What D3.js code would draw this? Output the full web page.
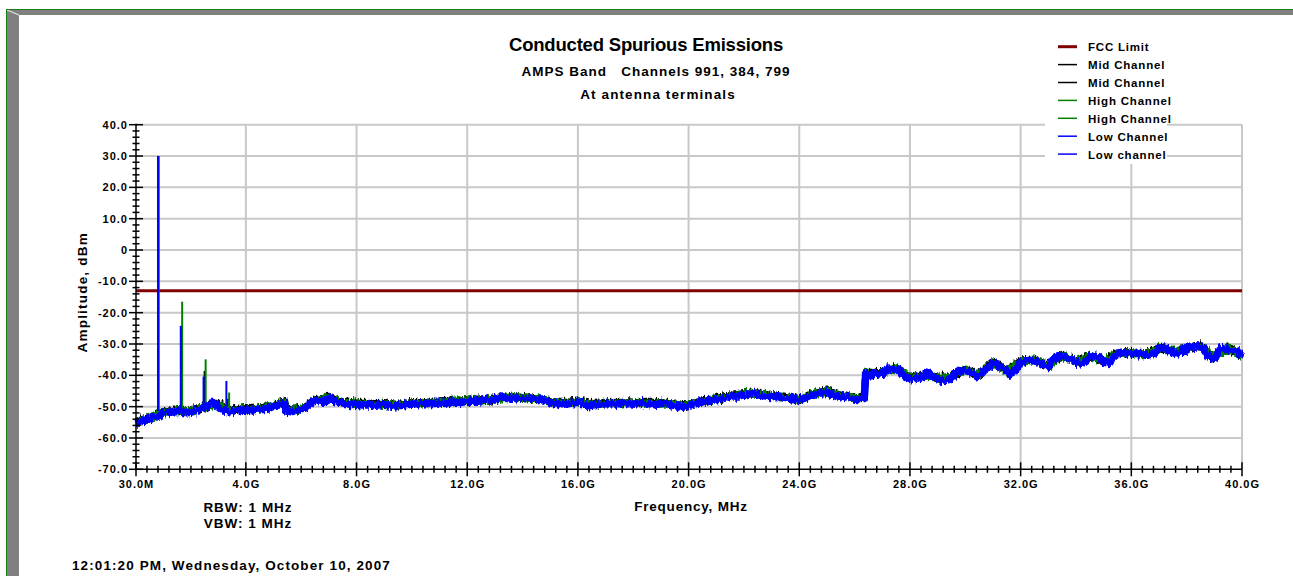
<!DOCTYPE html>
<html><head><meta charset="utf-8">
<script src="https://cdn.jsdelivr.net/npm/d3@7"></script>
<style>
body{margin:0;background:#fff}
svg{display:block}
text{font-family:"Liberation Sans",Arial,sans-serif;font-weight:bold;fill:#000}
</style>
</head><body>
<svg id="chart" width="1293" height="576"></svg>
<script>
// ---------------- data ----------------
const xTickValues=[0.03,4,8,12,16,20,24,28,32,36,40];
const xTickLabels=["30.0M","4.0G","8.0G","12.0G","16.0G","20.0G","24.0G","28.0G","32.0G","36.0G","40.0G"];
const yTickValues=[40,30,20,10,0,-10,-20,-30,-40,-50,-60,-70];
const yTickLabels=["40.0","30.0","20.0","10.0","0","-10.0","-20.0","-30.0","-40.0","-50.0","-60.0","-70.0"];
const fccLimit=-13;

const freqGHz=[
0.03,0.2,0.4,0.6,0.8,1.0,1.2,1.4,1.6,1.8,
2.0,2.2,2.4,2.6,2.8,3.0,3.2,3.4,3.6,3.8,
4.0,4.2,4.4,4.6,4.8,5.0,5.2,5.4,5.45,5.6,
5.8,6.0,6.2,6.4,6.6,6.8,7.0,7.2,7.4,7.6,
7.8,8.0,8.2,8.4,8.6,8.8,9.0,9.2,9.4,9.6,
9.8,10.0,10.2,10.4,10.6,10.8,11.0,11.2,11.4,11.6,
11.8,12.0,12.2,12.4,12.6,12.8,13.0,13.2,13.4,13.6,
13.8,14.0,14.2,14.4,14.6,14.8,15.0,15.2,15.4,15.6,
15.8,16.0,16.2,16.4,16.6,16.8,17.0,17.2,17.4,17.6,
17.8,18.0,18.2,18.4,18.6,18.8,19.0,19.2,19.4,19.6,
19.8,20.0,20.2,20.4,20.6,20.8,21.0,21.2,21.4,21.6,
21.8,22.0,22.2,22.4,22.6,22.8,23.0,23.2,23.4,23.6,
23.8,24.0,24.2,24.4,24.6,24.8,25.0,25.2,25.4,25.6,
25.8,26.0,26.2,26.35,26.4,26.6,26.8,27.0,27.2,27.4,
27.6,27.8,28.0,28.2,28.4,28.6,28.8,29.0,29.2,29.4,
29.6,29.8,30.0,30.2,30.4,30.6,30.8,31.0,31.2,31.4,
31.6,31.8,32.0,32.2,32.4,32.6,32.8,33.0,33.2,33.4,
33.6,33.8,34.0,34.2,34.4,34.6,34.8,35.0,35.2,35.4,
35.6,35.8,36.0,36.2,36.4,36.6,36.8,37.0,37.2,37.4,
37.6,37.8,38.0,38.2,38.4,38.6,38.8,39.0,39.2,39.4,
39.6,39.8,40.0];
const lowChannel=[
-55.5,-54.8,-54.2,-53.6,-53.2,-52.0,-51.8,-51.6,-51.5,-52.0,
-51.8,-51.3,-50.8,-49.8,-48.6,-50.2,-51.4,-51.6,-51.4,-51.2,
-51.0,-51.2,-50.8,-50.6,-50.5,-50.0,-49.8,-48.8,-51.4,-51.6,
-51.4,-51.0,-50.2,-48.6,-47.8,-48.6,-47.4,-48.0,-48.6,-49.0,
-49.3,-49.2,-49.5,-49.4,-49.6,-49.5,-49.4,-49.8,-49.7,-49.6,
-49.3,-49.2,-49.0,-49.2,-48.9,-49.0,-48.8,-48.9,-48.6,-48.5,
-48.6,-48.4,-48.2,-48.3,-48.0,-47.8,-47.9,-46.9,-47.0,-47.3,
-47.0,-47.4,-47.6,-47.5,-47.8,-47.9,-48.8,-49.2,-49.0,-49.2,
-48.8,-48.6,-49.2,-49.7,-49.4,-49.2,-49.1,-49.0,-49.2,-48.9,
-49.0,-49.2,-48.9,-49.1,-49.0,-49.4,-49.1,-49.0,-49.5,-49.8,
-50.2,-49.6,-49.1,-48.8,-48.2,-48.0,-47.8,-47.6,-47.0,-46.5,
-46.6,-46.2,-46.0,-45.8,-46.4,-46.6,-46.8,-46.7,-47.2,-47.6,
-47.3,-48.0,-47.2,-46.4,-46.0,-45.6,-45.4,-46.2,-46.9,-46.6,
-46.9,-47.6,-47.8,-47.4,-39.5,-39.8,-39.7,-39.4,-38.0,-38.2,
-38.0,-40.2,-41.1,-41.0,-40.6,-39.3,-40.0,-41.1,-41.8,-41.4,
-39.8,-38.6,-38.5,-38.8,-40.4,-39.4,-37.3,-36.2,-36.8,-38.0,
-39.6,-38.6,-35.8,-35.4,-35.2,-35.6,-36.8,-37.2,-34.6,-33.9,
-34.0,-34.8,-35.8,-36.4,-35.0,-33.6,-34.2,-35.8,-36.2,-34.0,
-32.6,-32.8,-33.1,-33.0,-33.4,-33.6,-33.0,-31.6,-31.0,-32.2,
-33.1,-32.4,-31.6,-30.8,-30.6,-31.6,-34.2,-34.6,-31.6,-31.4,
-32.2,-32.0,-34.1];

const coarseFreqGHz=[
0.03,0.5,1.0,1.5,2.0,2.5,3.0,3.5,4.0,4.5,
5.0,5.4,5.45,6.0,6.5,7.0,7.5,8.0,8.5,9.0,
9.5,10.0,10.5,11.0,11.5,12.0,12.5,13.0,13.5,14.0,
14.5,15.0,15.5,16.0,16.5,17.0,17.5,18.0,18.5,19.0,
19.5,20.0,20.5,21.0,21.5,22.0,22.5,23.0,23.5,24.0,
24.5,25.0,25.5,26.0,26.35,26.4,26.5,27.0,27.5,28.0,
28.5,29.0,29.5,30.0,30.5,31.0,31.5,32.0,32.5,33.0,
33.5,34.0,34.5,35.0,35.5,36.0,36.5,37.0,37.5,38.0,
38.5,39.0,39.5,40.0];
const midChannel=[
-54.8,-53.4,-51.6,-51.0,-51.4,-50.0,-48.8,-51.0,-50.6,-50.4,
-49.6,-48.4,-51.0,-50.6,-47.8,-47.0,-48.4,-48.8,-49.0,-48.9,
-49.2,-48.7,-48.7,-48.4,-48.1,-48.0,-47.8,-47.5,-46.8,-47.0,
-47.3,-48.4,-48.7,-48.2,-49.0,-48.7,-48.6,-48.8,-48.6,-48.7,
-49.2,-49.3,-48.1,-47.4,-46.4,-45.8,-45.6,-46.4,-47.0,-47.5,
-45.8,-45.0,-46.3,-47.2,-47.0,-39.2,-39.4,-39.0,-37.7,-40.7,
-39.6,-40.7,-40.4,-38.1,-39.7,-35.8,-38.5,-35.4,-35.0,-36.8,
-33.6,-35.4,-33.9,-35.4,-32.9,-32.7,-33.1,-31.2,-32.3,-31.2,
-30.6,-34.2,-31.2,-33.7];
const highChannel=[
-55.0,-53.8,-51.8,-51.3,-51.3,-50.2,-49.6,-51.2,-50.8,-50.5,
-49.7,-48.5,-51.2,-50.8,-48.0,-47.1,-48.6,-48.9,-49.2,-49.1,
-49.5,-48.9,-48.8,-48.5,-48.2,-48.1,-47.9,-47.6,-46.9,-47.1,
-47.4,-48.6,-48.9,-48.3,-49.3,-48.8,-48.8,-48.9,-48.8,-48.8,
-49.3,-49.4,-48.3,-47.5,-46.5,-45.9,-45.7,-46.5,-47.1,-47.7,
-46.0,-45.1,-46.5,-47.3,-47.1,-39.3,-39.5,-39.1,-37.8,-40.8,
-39.8,-40.8,-40.6,-38.2,-39.8,-35.9,-38.6,-35.5,-35.1,-36.9,
-33.7,-35.5,-34.0,-35.5,-33.0,-32.8,-33.2,-31.3,-32.4,-31.3,
-30.7,-34.3,-31.3,-33.8];

// carrier + harmonics (GHz, peak dBm)
const midSpikeFreq=[0.836,1.673,2.51,3.346];
const midSpikePeak=[30.0,-25.5,-38.6,-47.5];
const highSpikeFreq=[0.849,1.698,2.547,3.396];
const highSpikePeak=[30.0,-16.5,-34.9,-45.5];
const lowSpikeFreq=[0.824,1.648,2.472,3.296];
const lowSpikePeak=[30.0,-24.2,-40.4,-41.8];
const spikeBase=-51.5;

const legendLabels=["FCC Limit","Mid Channel","Mid Channel","High Channel","High Channel","Low Channel","Low channel"];
const legendColors=["#800000","#000000","#000000","#008000","#008000","#0000ff","#0000ff"];

// ---------------- drawing ----------------
const svg=d3.select("#chart");
const X0=136,X1=1242,Y0=469.3,Y1=124.7;
const x=d3.scaleLinear().domain([0.03,40]).range([X0,X1]);
const y=d3.scaleLinear().domain([-70,40]).range([Y0,Y1]);

// texture filter giving the swept-spectrum band its ragged look (styling only)
const defs=svg.append("defs");
[["rag1",3],["rag2",11],["rag3",23]].forEach(([id,seed])=>{
  const f=defs.append("filter").attr("id",id).attr("filterUnits","userSpaceOnUse")
    .attr("x",120).attr("y",100).attr("width",1140).attr("height",400);
  f.append("feTurbulence").attr("type","fractalNoise").attr("baseFrequency","0.45 0.12")
    .attr("numOctaves",2).attr("seed",seed).attr("result","t");
  f.append("feColorMatrix").attr("in","t").attr("type","matrix")
    .attr("values","0 0 0 0 0.5  1 0 0 0 0  0 0 0 0 0  0 0 0 0 1").attr("result","m");
  f.append("feDisplacementMap").attr("in","SourceGraphic").attr("in2","m").attr("scale",9)
    .attr("xChannelSelector","R").attr("yChannelSelector","G");
});

// frame
svg.append("rect").attr("x",7).attr("y",10).attr("width",12).attr("height",566).attr("fill","#808080");
svg.append("rect").attr("x",7).attr("y",10).attr("width",1286).attr("height",5).attr("fill","#808080");
svg.append("line").attr("x1",7).attr("y1",10).attr("x2",19).attr("y2",15).attr("stroke","#e0e0e0").attr("stroke-width",1.2);
svg.append("line").attr("x1",6.5).attr("y1",9).attr("x2",6.5).attr("y2",576).attr("stroke","#1a801a").attr("stroke-width",1);
svg.append("line").attr("x1",6).attr("y1",9.5).attr("x2",1293).attr("y2",9.5).attr("stroke","#1a801a").attr("stroke-width",1);

// grid
const grid=svg.append("g").attr("stroke","#c8c8c8").attr("stroke-width",2);
yTickValues.filter(v=>v>-70).forEach(v=>{
  grid.append("line").attr("x1",X0).attr("x2",X1).attr("y1",y(v)).attr("y2",y(v));
});
xTickValues.filter(v=>v>0.03).forEach(v=>{
  grid.append("line").attr("x1",x(v)).attr("x2",x(v)).attr("y1",Y1).attr("y2",Y0);
});

// FCC limit
svg.append("line").attr("x1",x(0.03)).attr("x2",x(40)).attr("y1",y(fccLimit)).attr("y2",y(fccLimit))
  .attr("stroke","#800000").attr("stroke-width",3);

// traces
const line=d3.line().x(d=>x(d[0])).y(d=>y(d[1]));
function trace(fr,vals,color,w,filt){
  const n=Math.min(fr.length,vals.length);
  const pts=d3.range(n).map(i=>[fr[i],vals[i]]);
  svg.append("path").datum(pts).attr("d",line).attr("fill","none").attr("stroke",color)
    .attr("stroke-width",w).attr("stroke-linejoin","round").attr("stroke-linecap","butt")
    .attr("filter","url(#"+filt+")");
}
function spikes(fr,pk,color){
  fr.forEach((f,i)=>{
    svg.append("line").attr("x1",x(f)).attr("x2",x(f)).attr("y1",y(spikeBase)).attr("y2",y(pk[i]))
      .attr("stroke",color).attr("stroke-width",2);
  });
}
trace(coarseFreqGHz,midChannel,"#000000",7,"rag1");
spikes(midSpikeFreq,midSpikePeak,"#000000");
trace(coarseFreqGHz,highChannel,"#008000",7,"rag2");
spikes(highSpikeFreq,highSpikePeak,"#008000");
trace(freqGHz,lowChannel,"#0000ff",7.5,"rag3");
spikes(lowSpikeFreq,lowSpikePeak,"#0000ff");

// axes lines
const ax=svg.append("g").attr("stroke","#000").attr("stroke-width",1.5);
ax.append("line").attr("x1",X0).attr("x2",X0).attr("y1",Y1-1).attr("y2",Y0);
ax.append("line").attr("x1",X0).attr("x2",X1).attr("y1",Y0).attr("y2",Y0);
// y ticks
d3.range(-70,40.1,2).forEach(v=>{
  const major=Math.abs(v%10)<1e-6;
  const h=major?7:3.5;
  ax.append("line").attr("x1",X0-h).attr("x2",X0+h).attr("y1",y(v)).attr("y2",y(v));
});
// x ticks (9 minor between each pair of majors)
for(let i=0;i<xTickValues.length;i++){
  ax.append("line").attr("x1",x(xTickValues[i])).attr("x2",x(xTickValues[i])).attr("y1",Y0-7).attr("y2",Y0+7);
  if(i<xTickValues.length-1){
    const a=xTickValues[i],b=xTickValues[i+1];
    for(let k=1;k<10;k++){
      const f=a+(b-a)*k/10;
      ax.append("line").attr("x1",x(f)).attr("x2",x(f)).attr("y1",Y0-3.5).attr("y2",Y0+3.5);
    }
  }
}
// tick labels
yTickValues.forEach((v,i)=>{
  svg.append("text").attr("x",128).attr("y",y(v)+4).attr("text-anchor","end")
    .style("font-size","11px").style("letter-spacing","1px").text(yTickLabels[i]);
});
xTickValues.forEach((v,i)=>{
  svg.append("text").attr("x",x(v)+0.5).attr("y",487.5).attr("text-anchor","middle")
    .style("font-size","11px").style("letter-spacing","1px").text(xTickLabels[i]);
});

// titles
function txt(s,xx,yy,size,anchor,ls){
  return svg.append("text").attr("x",xx).attr("y",yy).attr("text-anchor",anchor||"middle")
    .style("font-size",size+"px").style("letter-spacing",(ls||0)+"px").text(s);
}
txt("Conducted Spurious Emissions",646,51,18.5,"middle",-0.2);
txt("AMPS Band\u00a0\u00a0 Channels 991, 384, 799",656,76,13.5,"middle",1.0);
txt("At antenna terminals",658,99,13.5,"middle",1.1);
svg.append("text").attr("transform","translate(86.5,292.3) rotate(-90)").attr("text-anchor","middle")
  .style("font-size","13.5px").style("letter-spacing","1.2px").text("Amplitude, dBm");
txt("Frequency, MHz",691,511,13.5,"middle",0.8);
txt("RBW: 1 MHz",248,512,13.5,"middle",1);
txt("VBW: 1 MHz",248,527.5,13.5,"middle",1);
txt("12:01:20 PM, Wednesday, October 10, 2007",72,570,13.5,"start",1.1);

// legend
svg.append("rect").attr("x",1045).attr("y",34).attr("width",122).attr("height",130).attr("fill","#fff");
legendLabels.forEach((l,i)=>{
  const yy=46.7+i*17.9;
  svg.append("line").attr("x1",1058).attr("x2",1077).attr("y1",yy).attr("y2",yy)
    .attr("stroke",legendColors[i]).attr("stroke-width",i===0?3:1.5);
  txt(l,1088,yy+4.5,11.5,"start",0.8);
});
</script>
</body></html>
